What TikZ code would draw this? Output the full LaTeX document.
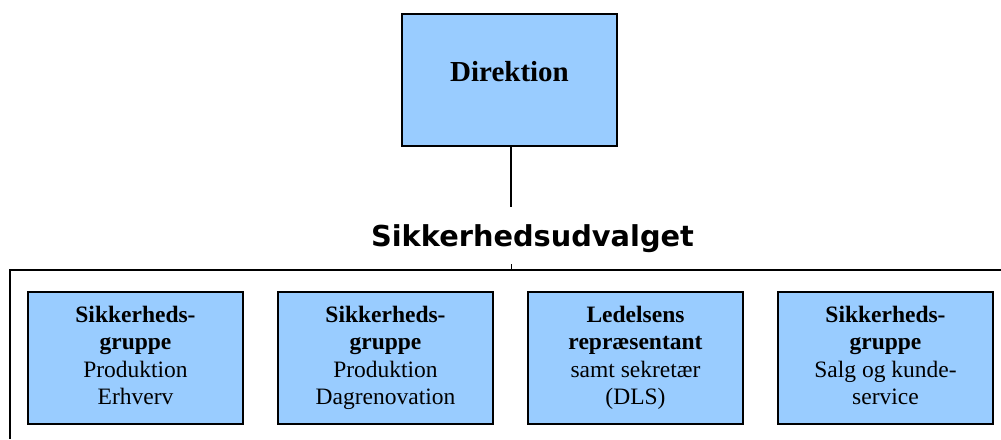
\documentclass[tikz,border=0pt]{standalone}
\usepackage{fontspec}
\setmainfont{Liberation Serif}
\newfontfamily\titlefont{DejaVu Sans}
\definecolor{boxblue}{HTML}{99CCFF}
\tikzset{
  orgbox/.style={draw=black, line width=1.5pt, fill=boxblue, minimum width=215pt, minimum height=132pt, inner sep=0pt, align=center},
  grpbox/.style={orgbox, font=\fontsize{23.5}{27.3}\selectfont},
  conn/.style={draw=black, line width=1.5pt},
  frameline/.style={draw=black, line width=1.2pt},
}
\begin{document}
\begin{tikzpicture}[x=1pt, y=-1pt]
\useasboundingbox (0,0) rectangle (1001,439);
\node[orgbox, font=\fontsize{29}{33}\selectfont\bfseries, text height=20pt, text depth=18pt] (dir) at (509.5,80) {Direktion};
\coordinate (dirend) at (511,207);
\draw[conn] (dir.south -| dirend) -- (dirend);
\node[anchor=base, font=\titlefont\bfseries\fontsize{28.8}{32}\selectfont] (title) at (532.5,246) {Sikkerhedsudvalget};
\coordinate (fr) at (1001,270);
\coordinate (fc) at (10,270);
\coordinate (fb) at (10,439);
\draw[frameline] (fr) -- (fc) -- (fb);
\coordinate (tickt) at (511,264);
\coordinate (tickb) at (511,270);
\draw[line width=0.8pt] (tickt) -- (tickb);
\node[grpbox] (g1) at (135.5,358) {\strut\textbf{Sikkerheds-}\\\textbf{gruppe}\\Produktion\\Erhverv\strut};
\node[grpbox] (g2) at (385.5,358) {\strut\textbf{Sikkerheds-}\\\textbf{gruppe}\\Produktion\\Dagrenovation\strut};
\node[grpbox] (g3) at (635.5,358) {\strut\textbf{Ledelsens}\\\textbf{repræsentant}\\samt sekretær\\(DLS)\strut};
\node[grpbox] (g4) at (885.5,358) {\strut\textbf{Sikkerheds-}\\\textbf{gruppe}\\Salg og kunde-\\service\strut};
\end{tikzpicture}
\end{document}
